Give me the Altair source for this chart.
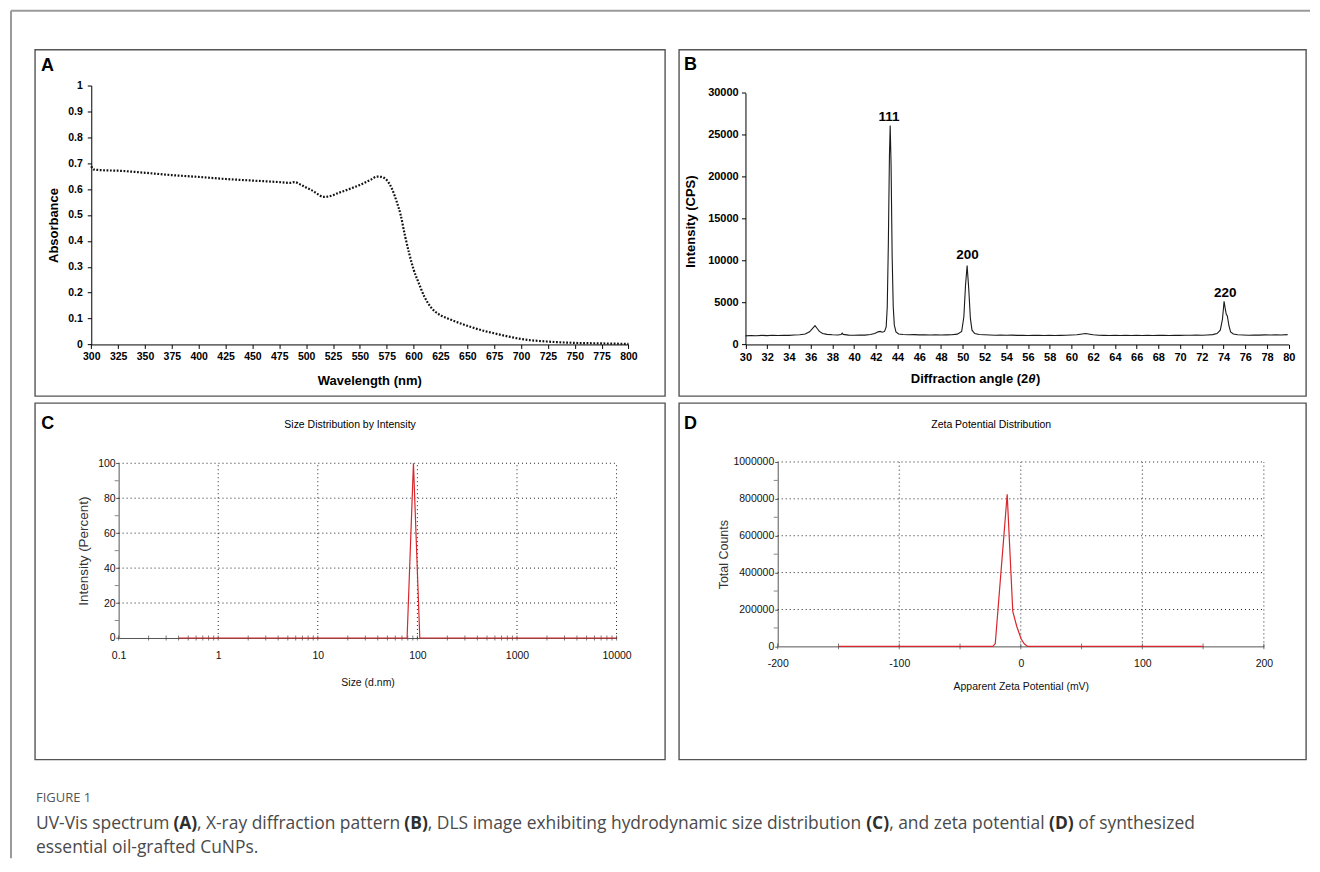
import altair as alt
import pandas as pd

# ---------------- A : UV-Vis spectrum ----------------
uv_wavelength = [300, 302, 310, 325, 350, 375, 400, 425, 450, 475,
                 485, 489, 495, 500, 505, 510, 516, 520, 530, 540,
                 550, 560, 566, 570, 573, 576, 580, 584, 588, 592,
                 596, 600, 605, 610, 615, 620, 625, 635, 650, 665,
                 675, 690, 700, 725, 750, 775, 800]
uv_absorbance = [0.688, 0.676, 0.673, 0.671, 0.663, 0.654, 0.647, 0.639, 0.633, 0.627,
                 0.624, 0.627, 0.617, 0.606, 0.596, 0.583, 0.570, 0.571, 0.585, 0.600,
                 0.616, 0.636, 0.648, 0.647, 0.642, 0.630, 0.600, 0.555, 0.500, 0.420,
                 0.350, 0.290, 0.235, 0.185, 0.150, 0.127, 0.113, 0.095, 0.072, 0.053,
                 0.043, 0.029, 0.021, 0.011, 0.006, 0.004, 0.002]

# ---------------- B : XRD pattern ----------------
xrd_angle = [30.0, 30.5, 31.0, 31.5, 32.0, 32.5, 33.0, 33.5, 34.0, 34.5,
             35.0, 35.5, 35.9, 36.2, 36.4, 36.6, 36.8, 37.1, 37.5, 38.0,
             38.5, 38.8, 38.9, 39.0, 39.5, 40.0, 40.5, 41.0, 41.5, 41.9,
             42.2, 42.4, 42.6, 42.8, 42.95, 43.05, 43.15, 43.25, 43.32, 43.4,
             43.5, 43.6, 43.7, 43.85, 44.1, 44.5, 45.0, 45.5, 46.0, 46.5,
             47.0, 47.5, 48.0, 48.5, 49.0, 49.5, 49.9, 50.1, 50.25, 50.4,
             50.55, 50.7, 50.85, 51.1, 51.5, 52.0, 52.5, 53.0, 53.5, 54.0,
             54.5, 55.0, 55.5, 56.0, 56.5, 57.0, 57.5, 58.0, 58.5, 59.0,
             59.5, 60.0, 60.5, 61.0, 61.3, 61.7, 62.0, 62.5, 63.0, 63.5,
             64.0, 64.5, 65.0, 65.5, 66.0, 66.5, 67.0, 67.5, 68.0, 68.5,
             69.0, 69.5, 70.0, 70.5, 71.0, 71.5, 72.0, 72.5, 73.0, 73.4,
             73.7, 73.9, 74.05, 74.15, 74.25, 74.35, 74.5, 74.65, 74.9, 75.3,
             75.8, 76.3, 76.8, 77.3, 77.8, 78.3, 78.8, 79.3, 79.9]
xrd_intensity = [1020, 1060, 1040, 1080, 1050, 1090, 1070, 1100, 1080, 1120,
                 1150, 1250, 1500, 1950, 2250, 1900, 1550, 1300, 1200, 1150,
                 1130, 1180, 1350, 1200, 1110, 1090, 1120, 1110, 1180, 1300,
                 1500, 1550, 1450, 1550, 2100, 4500, 12000, 22500, 26100, 21500,
                 10500, 4500, 2300, 1500, 1250, 1180, 1150, 1170, 1140, 1160,
                 1130, 1150, 1120, 1140, 1150, 1230, 1550, 3300, 7000, 9400,
                 6600, 3100, 1700, 1300, 1180, 1150, 1130, 1100, 1120, 1090,
                 1110, 1080, 1100, 1070, 1090, 1080, 1060, 1090, 1070, 1080,
                 1100, 1120, 1150, 1250, 1300, 1220, 1150, 1100, 1080, 1070,
                 1090, 1060, 1080, 1070, 1090, 1060, 1080, 1070, 1090, 1080,
                 1070, 1090, 1080, 1100, 1090, 1110, 1100, 1130, 1170, 1300,
                 1700, 3000, 5150, 4300, 3600, 3400, 2200, 1500, 1250, 1150,
                 1120, 1100, 1130, 1110, 1140, 1120, 1150, 1130, 1170]
xrd_label_angle = [43.2, 50.44, 74.15]
xrd_label_int = [27100, 10630, 6190]
xrd_label_text = ["111", "200", "220"]

# ---------------- C : DLS size distribution ----------------
dls_size = [0.4, 78.8, 91.3, 105.7, 10000]
dls_intensity = [0, 0, 100, 0, 0]

# ---------------- D : zeta potential ----------------
zeta_mv = [-150, -23, -21, -11.2, -6.6, -3.3, 0.3, 3.0, 5.7, 150]
zeta_counts = [0, 0, 15000, 825000, 190000, 108000, 40000, 13000, 0, 0]

# ---------------- ticks / grids ----------------
a_xticks = [300, 325, 350, 375, 400, 425, 450, 475, 500, 525, 550, 575, 600,
            625, 650, 675, 700, 725, 750, 775, 800]
a_yticks = [0, 0.1, 0.2, 0.3, 0.4, 0.5, 0.6, 0.7, 0.8, 0.9, 1]
b_xticks = list(range(30, 81, 2))
b_yticks = [0, 5000, 10000, 15000, 20000, 25000, 30000]
c_xlabels = [0.1, 1, 10, 100, 1000, 10000]
c_xminor = [0.1, 0.2, 0.3, 0.4, 0.5, 0.6, 0.7, 0.8, 0.9,
            1, 2, 3, 4, 5, 6, 7, 8, 9,
            10, 20, 30, 40, 50, 60, 70, 80, 90,
            100, 200, 300, 400, 500, 600, 700, 800, 900,
            1000, 2000, 3000, 4000, 5000, 6000, 7000, 8000, 9000, 10000]
c_ylabels = [0, 20, 40, 60, 80, 100]
c_yminor = [10, 30, 50, 70, 90]
c_vgrid = [1, 10, 100, 1000, 10000]
c_hgrid = [20, 40, 60, 80, 100]
d_xlabels = [-200, -100, 0, 100, 200]
d_xticks = [-200, -150, -100, -50, 0, 50, 100, 150, 200]
d_ylabels = [0, 200000, 400000, 600000, 800000, 1000000]
d_yminor = [100000, 300000, 500000, 700000, 900000]
d_vgrid = [-100, 0, 100, 200]
d_hgrid = [200000, 400000, 600000, 800000, 1000000]

caption_head = "FIGURE 1"
# (text, bold?)
caption_line1 = [("UV-Vis spectrum ", False), ("(A)", True),
                 (", X-ray diffraction pattern ", False), ("(B)", True),
                 (", DLS image exhibiting hydrodynamic size distribution ", False), ("(C)", True),
                 (", and zeta potential ", False), ("(D)", True),
                 (" of synthesized", False)]
caption_line2 = [("essential oil-grafted CuNPs.", False)]

# x-axis title of panel B: (text, italic?)
b_xtitle_runs = [("Diffraction angle (2", False), ("θ", True), (")", False)]

# ---------------- styling ----------------
ARIAL = "Liberation Sans, Arial, sans-serif"
CAPF = "Open Sans, Noto Sans, sans-serif"
RED = "#d8262c"
SMALL = 10.5

one = pd.DataFrame({"k": [0]})


def ptext(txt, x, y, size, font, weight="normal", color="black", align="left",
          baseline="middle", style="normal"):
    return alt.Chart(one).mark_text(
        text=txt, font=font, fontSize=size, fontWeight=weight, color=color,
        align=align, baseline=baseline, fontStyle=style
    ).encode(x=alt.value(x), y=alt.value(y))


# approximate Open Sans advance widths (units per em = 2048) used to lay out the
# mixed regular / bold caption runs
OS_REG = {' ': 532, '(': 608, ')': 608, ',': 500, '-': 659, '.': 545,
          'A': 1296, 'B': 1327, 'C': 1292, 'D': 1493, 'L': 1063, 'N': 1604,
          'P': 1255, 'S': 1104, 'U': 1479, 'V': 1186, 'X': 1141,
          'a': 1139, 'b': 1255, 'c': 975, 'd': 1255, 'e': 1149, 'f': 694,
          'g': 1122, 'h': 1257, 'i': 518, 'k': 1075, 'l': 518, 'm': 1905,
          'n': 1257, 'o': 1237, 'p': 1255, 'r': 836, 's': 977, 't': 723,
          'u': 1257, 'v': 1026, 'x': 1073, 'y': 1028, 'z': 977}
OS_BOLD = {'(': 694, ')': 694, 'A': 1368, 'B': 1376, 'C': 1305, 'D': 1511}


def units(s, bold):
    tab = OS_BOLD if bold else OS_REG
    return sum(tab.get(ch, OS_REG.get(ch, 1100)) for ch in s)


CAP_X0 = 1.0          # relative to panel C box
CAP_W1 = 1161.0       # width of the first caption line
total_units = sum(units(t, b) for t, b in caption_line1)
CAP_SIZE = CAP_W1 * 2048.0 / total_units


def caption_runs(runs, y):
    layers = []
    x = CAP_X0
    for t, b in runs:
        lead = len(t) - len(t.lstrip(" "))
        xs = x + units(" " * lead, b) * CAP_SIZE / 2048.0
        layers.append(ptext(t.strip(" "), xs, y, CAP_SIZE, CAPF,
                            weight="bold" if b else "normal",
                            color="#2e2e2e" if b else "#4a4a4a"))
        x += units(t, b) * CAP_SIZE / 2048.0
    return layers


# Arial-bold advance widths (units per em = 1000) for the panel B axis title
AB = {'D': 722, 'i': 278, 'f': 333, 'r': 389, 'a': 556, 'c': 556, 't': 333,
      'o': 611, 'n': 611, ' ': 278, 'g': 611, 'l': 278, 'e': 556, '(': 333,
      ')': 333, '2': 556, 'θ': 580}


def b_title_runs(cx, y, size):
    total = sum(AB.get(ch, 556) for t, _ in b_xtitle_runs for ch in t) * size / 1000.0
    x = cx - total / 2.0
    layers = []
    for t, it in b_xtitle_runs:
        layers.append(ptext(t, x, y, size, ARIAL, "bold", style="italic" if it else "normal"))
        x += sum(AB.get(ch, 556) for ch in t) * size / 1000.0
    return layers


def std_axis(**kw):
    base = dict(labelFlush=False, labelOverlap=False, grid=False)
    base.update(kw)
    return alt.Axis(**base)


# ======================= Panel A =======================
wA, hA = 631, 347
xA = alt.Scale(domain=[300, 800], range=[56.4, 594.4], nice=False, zero=False)
yA = alt.Scale(domain=[0, 1], range=[295.3, 36], nice=False, zero=False)

axA_x = std_axis(values=a_xticks, format="d", offset=-51.7, title="Wavelength (nm)",
                 titleX=334.8, titleY=36.4, titleBaseline="middle",
                 titleFont=ARIAL, titleFontSize=13, titleFontWeight="bold", titleColor="black",
                 labelFont=ARIAL, labelFontSize=10.5, labelFontWeight="bold", labelColor="black",
                 labelPadding=3, tickSize=4, tickColor="black", domainColor="black")
axA_y = std_axis(values=a_yticks, format="~g", offset=-56.4, title="Absorbance",
                 titleX=-38, titleY=175.7, titleAngle=-90, titleBaseline="middle",
                 titleAlign="center",
                 titleFont=ARIAL, titleFontSize=13, titleFontWeight="bold", titleColor="black",
                 labelFont=ARIAL, labelFontSize=10.5, labelFontWeight="bold", labelColor="black",
                 labelPadding=5, tickSize=4, tickColor="black", domainColor="black")

lineA = alt.Chart(pd.DataFrame({"wl": uv_wavelength, "ab": uv_absorbance})).mark_line(
    color="#111111", strokeWidth=2.2, strokeDash=[1.8, 1.6], interpolate="monotone"
).encode(x=alt.X("wl:Q", scale=xA, axis=axA_x), y=alt.Y("ab:Q", scale=yA, axis=axA_y))

frame_top = alt.Chart(one).mark_rule(color="#9a9a9a", strokeWidth=2).encode(
    x=alt.value(-24), x2=alt.value(1277), y=alt.value(-39))
frame_left = alt.Chart(one).mark_rule(color="#9a9a9a", strokeWidth=2).encode(
    x=alt.value(-24), y=alt.value(-39), y2=alt.value(810))

panelA = alt.layer(
    lineA,
    ptext("A", 6, 21, 18, ARIAL, "bold", baseline="alphabetic"),
    frame_top, frame_left,
).properties(width=wA, height=hA)

# ======================= Panel B =======================
wB, hB = 628, 347
xB = alt.Scale(domain=[30, 80], range=[66.6, 610.7], nice=False, zero=False)
yB = alt.Scale(domain=[0, 30000], range=[295.3, 43.3], nice=False, zero=False)

axB_x = std_axis(values=b_xticks, format="d", offset=-51.7, title=None,
                 labelFont=ARIAL, labelFontSize=11, labelFontWeight="bold", labelColor="black",
                 labelPadding=3, tickSize=4, tickColor="black", domainColor="black")
axB_y = std_axis(values=b_yticks, format="d", offset=-66.6, title="Intensity (CPS)",
                 titleX=-55.1, titleY=171.8, titleAngle=-90, titleBaseline="middle",
                 titleAlign="center",
                 titleFont=ARIAL, titleFontSize=13, titleFontWeight="bold", titleColor="black",
                 labelFont=ARIAL, labelFontSize=11, labelFontWeight="bold", labelColor="black",
                 labelPadding=3.3, tickSize=4, tickColor="black", domainColor="black")

lineB = alt.Chart(pd.DataFrame({"ang": xrd_angle, "cps": xrd_intensity})).mark_line(
    color="#1a1a1a", strokeWidth=1.1
).encode(x=alt.X("ang:Q", scale=xB, axis=axB_x), y=alt.Y("cps:Q", scale=yB, axis=axB_y))

labelsB = alt.Chart(pd.DataFrame({"ang": xrd_label_angle, "cps": xrd_label_int,
                                  "t": xrd_label_text})).mark_text(
    font=ARIAL, fontSize=13.5, fontWeight="bold", color="black", baseline="middle"
).encode(x=alt.X("ang:Q", scale=xB, axis=axB_x), y=alt.Y("cps:Q", scale=yB, axis=axB_y),
         text="t:N")

panelB = alt.layer(
    lineB, labelsB,
    ptext("B", 5, 20.3, 18, ARIAL, "bold", baseline="alphabetic"),
    *b_title_runs(297, 330.3, 13),
).properties(width=wB, height=hB)

# ======================= Panel C =======================
wC, hC = 631, 357
xC = alt.Scale(type="log", domain=[0.1, 10000], range=[83.8, 582.5], nice=False)
yC = alt.Scale(domain=[0, 100], range=[235.3, 60.3], nice=False, zero=False)

axC_x = std_axis(values=c_xlabels, format="~g", offset=-121.7, title="Size (d.nm)",
                 titleY=44.4, titleBaseline="middle",
                 titleFont=ARIAL, titleFontSize=SMALL, titleFontWeight="normal", titleColor="#111111",
                 labelFont=ARIAL, labelFontSize=SMALL, labelColor="#111111",
                 labelPadding=12.6, ticks=False, domainColor="#555555")
axC_y = std_axis(values=c_ylabels, format="d", offset=-83.8, title="Intensity (Percent)",
                 titleX=-34.8, titleAngle=-90, titleBaseline="middle", titleAlign="center",
                 titleFont=ARIAL, titleFontSize=13.5, titleFontWeight="normal", titleColor="#333333",
                 labelFont=ARIAL, labelFontSize=SMALL, labelColor="#111111",
                 labelPadding=0.5, tickSize=3, tickColor="#555555", domainColor="#555555")

vgridC = alt.Chart(pd.DataFrame({"g": c_vgrid, "lo": [0] * 5, "hi": [100] * 5})).mark_rule(
    color="#222222", strokeWidth=1, strokeDash=[1, 3]
).encode(x=alt.X("g:Q", scale=xC, axis=axC_x), y=alt.Y("lo:Q", scale=yC, axis=axC_y), y2="hi:Q")
hgridC = alt.Chart(pd.DataFrame({"g": c_hgrid, "lo": [0.1] * 5, "hi": [10000] * 5})).mark_rule(
    color="#222222", strokeWidth=1, strokeDash=[1, 3]
).encode(y=alt.Y("g:Q", scale=yC, axis=axC_y), x=alt.X("lo:Q", scale=xC, axis=axC_x), x2="hi:Q")
xtickC = alt.Chart(pd.DataFrame({"v": c_xminor, "z": [0] * len(c_xminor)})).mark_tick(
    orient="vertical", size=5, thickness=1, color="#444444"
).encode(x=alt.X("v:Q", scale=xC, axis=axC_x), y=alt.Y("z:Q", scale=yC, axis=axC_y))
ytickC = alt.Chart(pd.DataFrame({"v": c_yminor, "z": [0.1] * len(c_yminor)})).mark_tick(
    orient="horizontal", size=4, thickness=1, color="#555555", xOffset=-2
).encode(y=alt.Y("v:Q", scale=yC, axis=axC_y), x=alt.X("z:Q", scale=xC, axis=axC_x))
lineC = alt.Chart(pd.DataFrame({"size": dls_size, "pct": dls_intensity})).mark_line(
    color=RED, strokeWidth=1.2
).encode(x=alt.X("size:Q", scale=xC, axis=axC_x), y=alt.Y("pct:Q", scale=yC, axis=axC_y))

panelC = alt.layer(
    vgridC, hgridC, xtickC, ytickC, lineC,
    ptext("C", 6.2, 26.3, 18, ARIAL, "bold", baseline="alphabetic"),
    ptext("Size Distribution by Intensity", 315.6, 22, SMALL, ARIAL, align="center"),
    ptext(caption_head, CAP_X0, 396, 13, CAPF, color="#555555"),
    *caption_runs(caption_line1, 421.5),
    *caption_runs(caption_line2, 445.5),
).properties(width=wC, height=hC)

# ======================= Panel D =======================
wD, hD = 628, 357
xD = alt.Scale(domain=[-200, 200], range=[98.9, 585.8], nice=False, zero=False)
yD = alt.Scale(domain=[0, 1000000], range=[243.7, 59], nice=False, zero=False)

axD_x = std_axis(values=d_xlabels, labelExpr="toString(datum.value)", offset=-113.3,
                 title="Apparent Zeta Potential (mV)",
                 titleY=40.6, titleBaseline="middle",
                 titleFont=ARIAL, titleFontSize=SMALL, titleFontWeight="normal", titleColor="#111111",
                 labelFont=ARIAL, labelFontSize=SMALL, labelColor="#111111",
                 labelPadding=11.7, ticks=False, domainColor="#555555")
axD_y = std_axis(values=d_ylabels, format="d", offset=-98.9, title="Total Counts",
                 titleX=-54.7, titleAngle=-90, titleBaseline="middle", titleAlign="center",
                 titleFont=ARIAL, titleFontSize=12.5, titleFontWeight="normal", titleColor="#333333",
                 labelFont=ARIAL, labelFontSize=SMALL, labelColor="#111111",
                 labelPadding=1, tickSize=3, tickColor="#555555", domainColor="#555555")

vgridD = alt.Chart(pd.DataFrame({"g": d_vgrid, "lo": [0] * 4, "hi": [1000000] * 4})).mark_rule(
    color="#222222", strokeWidth=1, strokeDash=[1, 3]
).encode(x=alt.X("g:Q", scale=xD, axis=axD_x), y=alt.Y("lo:Q", scale=yD, axis=axD_y), y2="hi:Q")
hgridD = alt.Chart(pd.DataFrame({"g": d_hgrid, "lo": [-200] * 5, "hi": [200] * 5})).mark_rule(
    color="#222222", strokeWidth=1, strokeDash=[1, 3]
).encode(y=alt.Y("g:Q", scale=yD, axis=axD_y), x=alt.X("lo:Q", scale=xD, axis=axD_x), x2="hi:Q")
xtickD = alt.Chart(pd.DataFrame({"v": d_xticks, "z": [0] * len(d_xticks)})).mark_tick(
    orient="vertical", size=6, thickness=1, color="#444444"
).encode(x=alt.X("v:Q", scale=xD, axis=axD_x), y=alt.Y("z:Q", scale=yD, axis=axD_y))
ytickD = alt.Chart(pd.DataFrame({"v": d_yminor, "z": [-200] * len(d_yminor)})).mark_tick(
    orient="horizontal", size=4, thickness=1, color="#555555", xOffset=-2
).encode(y=alt.Y("v:Q", scale=yD, axis=axD_y), x=alt.X("z:Q", scale=xD, axis=axD_x))
lineD = alt.Chart(pd.DataFrame({"mv": zeta_mv, "cnt": zeta_counts})).mark_line(
    color=RED, strokeWidth=1.2
).encode(x=alt.X("mv:Q", scale=xD, axis=axD_x), y=alt.Y("cnt:Q", scale=yD, axis=axD_y))

panelD = alt.layer(
    vgridD, hgridD, xtickD, ytickD, lineD,
    ptext("D", 5, 26.3, 18, ARIAL, "bold", baseline="alphabetic"),
    ptext("Zeta Potential Distribution", 312.7, 22, SMALL, ARIAL, align="center"),
).properties(width=wD, height=hD)

# ======================= Figure =======================
chart = alt.concat(
    panelA, panelB, panelC, panelD,
    columns=2, spacing={"row": 7, "column": 14}, bounds="flush"
).properties(
    padding={"left": 1, "top": 0, "right": 0, "bottom": 0},
    background="white",
).configure_view(stroke="#555555", strokeWidth=1.4)

chart.save("out.html", embed_options={"renderer": "svg", "actions": False})
